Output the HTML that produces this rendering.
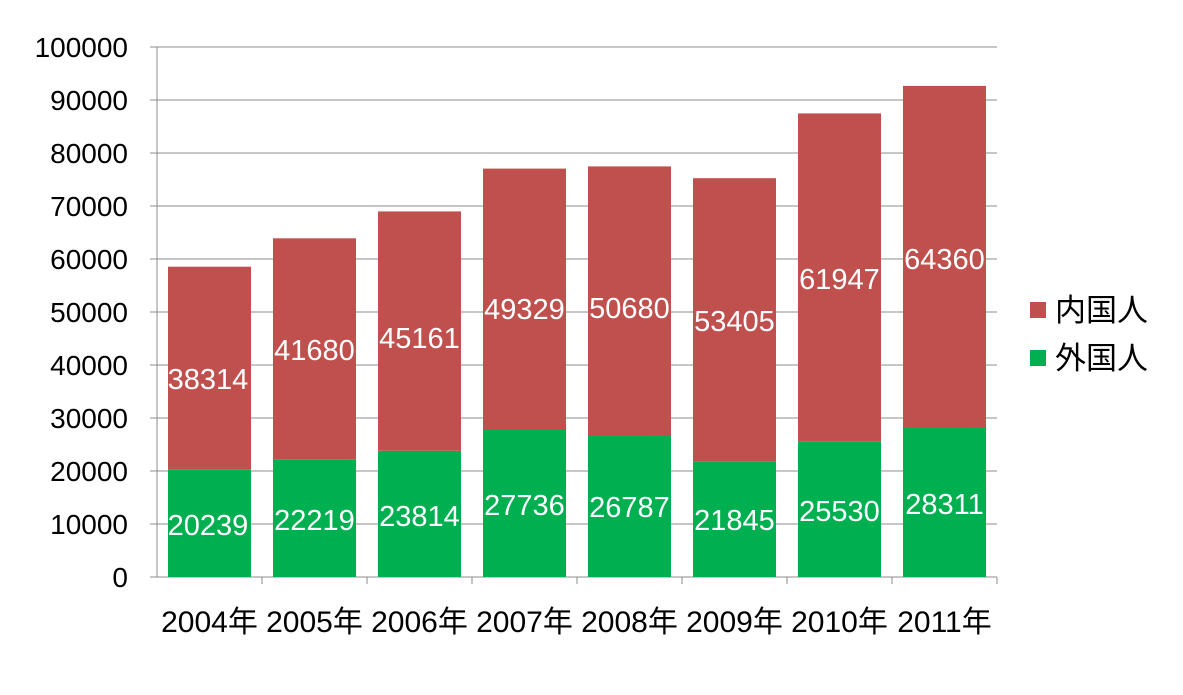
<!DOCTYPE html>
<html><head><meta charset="utf-8"><style>
body{margin:0;background:#fff}
svg text{font-family:"Liberation Sans","Noto Sans CJK JP",sans-serif}
</style></head><body>
<svg width="1183" height="690" xmlns="http://www.w3.org/2000/svg">
<g stroke="#8c8c8c" stroke-width="1">
<line x1="157" y1="47" x2="997" y2="47"/><line x1="157" y1="100" x2="997" y2="100"/>
<line x1="157" y1="153" x2="997" y2="153"/><line x1="157" y1="206" x2="997" y2="206"/>
<line x1="157" y1="259" x2="997" y2="259"/><line x1="157" y1="312" x2="997" y2="312"/>
<line x1="157" y1="365" x2="997" y2="365"/><line x1="157" y1="418" x2="997" y2="418"/>
<line x1="157" y1="471" x2="997" y2="471"/><line x1="157" y1="524" x2="997" y2="524"/>
<line x1="157" y1="577" x2="997" y2="577"/><line x1="157" y1="47" x2="157" y2="577"/>
</g>
<g stroke="#8c8c8c">
<line x1="150" y1="47" x2="157" y2="47"/><line x1="150" y1="100" x2="157" y2="100"/><line x1="150" y1="153" x2="157" y2="153"/><line x1="150" y1="206" x2="157" y2="206"/><line x1="150" y1="259" x2="157" y2="259"/><line x1="150" y1="312" x2="157" y2="312"/><line x1="150" y1="365" x2="157" y2="365"/><line x1="150" y1="418" x2="157" y2="418"/><line x1="150" y1="471" x2="157" y2="471"/><line x1="150" y1="524" x2="157" y2="524"/><line x1="150" y1="577" x2="157" y2="577"/>
<line x1="262" y1="577" x2="262" y2="584"/><line x1="367" y1="577" x2="367" y2="584"/><line x1="472" y1="577" x2="472" y2="584"/><line x1="577" y1="577" x2="577" y2="584"/><line x1="682" y1="577" x2="682" y2="584"/><line x1="787" y1="577" x2="787" y2="584"/><line x1="892" y1="577" x2="892" y2="584"/><line x1="997" y1="577" x2="997" y2="584"/>
</g>
<g font-size="28" fill="#000" text-anchor="end">
<text x="128" y="57">100000</text><text x="128" y="110">90000</text><text x="128" y="163">80000</text><text x="128" y="216">70000</text><text x="128" y="269">60000</text><text x="128" y="322">50000</text><text x="128" y="375">40000</text><text x="128" y="428">30000</text><text x="128" y="481">20000</text><text x="128" y="534">10000</text><text x="128" y="587">0</text>
</g>
<g>
<rect x="168" y="469.7" width="83" height="107.3" fill="#00B050"/><rect x="168" y="266.7" width="83" height="203" fill="#C0504D"/>
<rect x="273" y="459.2" width="83" height="117.8" fill="#00B050"/><rect x="273" y="238.3" width="83" height="220.9" fill="#C0504D"/>
<rect x="378" y="450.8" width="83" height="126.2" fill="#00B050"/><rect x="378" y="211.4" width="83" height="239.4" fill="#C0504D"/>
<rect x="483" y="430" width="83" height="147" fill="#00B050"/><rect x="483" y="168.6" width="83" height="261.4" fill="#C0504D"/>
<rect x="588" y="435" width="83" height="142" fill="#00B050"/><rect x="588" y="166.4" width="83" height="268.6" fill="#C0504D"/>
<rect x="693" y="461.2" width="83" height="115.8" fill="#00B050"/><rect x="693" y="178.2" width="83" height="283" fill="#C0504D"/>
<rect x="798" y="441.7" width="83" height="135.3" fill="#00B050"/><rect x="798" y="113.4" width="83" height="328.3" fill="#C0504D"/>
<rect x="903" y="427" width="83" height="150" fill="#00B050"/><rect x="903" y="85.9" width="83" height="341.1" fill="#C0504D"/>
</g>
<g font-size="29" fill="#fff" text-anchor="middle">
<text x="208" y="535">20239</text><text x="208" y="389">38314</text>
<text x="314.5" y="530">22219</text><text x="314.5" y="360">41680</text>
<text x="419.5" y="526">23814</text><text x="419.5" y="348">45161</text>
<text x="524.5" y="515">27736</text><text x="524.5" y="319">49329</text>
<text x="629.5" y="517">26787</text><text x="629.5" y="318">50680</text>
<text x="734.5" y="530">21845</text><text x="734.5" y="331">53405</text>
<text x="839.5" y="521">25530</text><text x="839.5" y="289">61947</text>
<text x="944.5" y="514">28311</text><text x="944.5" y="269">64360</text>
</g>
<g font-size="30" fill="#000" text-anchor="middle">
<text x="209.5" y="632">2004年</text><text x="314.5" y="632">2005年</text><text x="419.5" y="632">2006年</text><text x="524.5" y="632">2007年</text><text x="629.5" y="632">2008年</text><text x="734.5" y="632">2009年</text><text x="839.5" y="632">2010年</text><text x="944.5" y="632">2011年</text>
</g>
<rect x="1030" y="302" width="16" height="16" fill="#C0504D"/>
<rect x="1030" y="350" width="16" height="16" fill="#00B050"/>
<g font-size="31" fill="#000"><text x="1055" y="321">内国人</text><text x="1055" y="369">外国人</text></g>
</svg>
</body></html>
